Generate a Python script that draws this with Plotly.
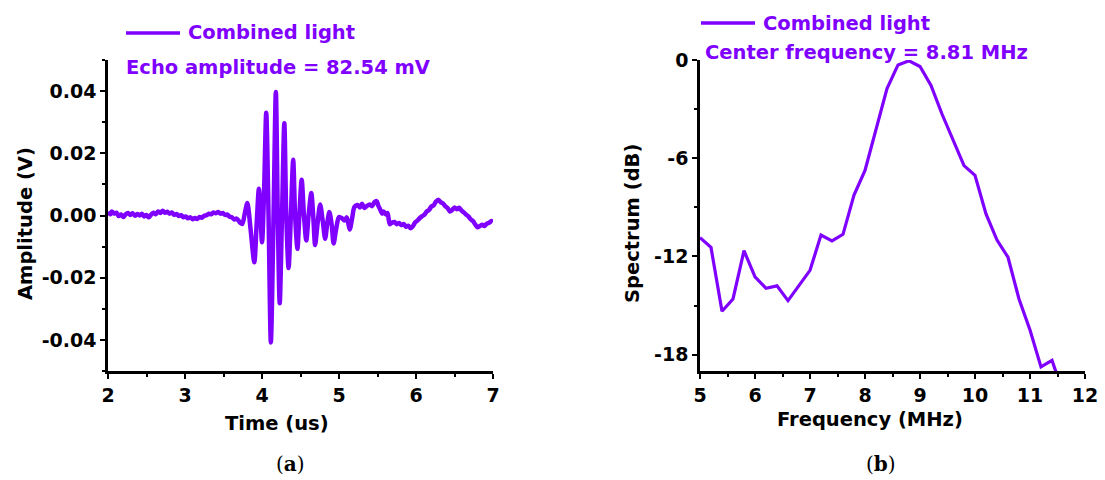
import numpy as np
import plotly.graph_objects as go

# ---------------- data ----------------
# (a) echo waveform: time (us) and amplitude (mV)
time_us = [
    2.00, 2.03, 2.05, 2.08, 2.11, 2.14, 2.17, 2.20, 2.23, 2.26, 2.29, 2.32, 2.35, 2.38, 2.41, 2.44,
    2.47, 2.50, 2.53, 2.56, 2.59, 2.62, 2.65, 2.68, 2.71, 2.74, 2.77, 2.80, 2.83, 2.86, 2.89, 2.92,
    2.95, 2.98, 3.01, 3.04, 3.07, 3.10, 3.13, 3.16, 3.19, 3.22, 3.25, 3.28, 3.31, 3.34, 3.37, 3.40,
    3.43, 3.46, 3.49, 3.52, 3.55, 3.58, 3.61, 3.64, 3.67, 3.70, 3.72, 3.745, 3.775, 3.81, 3.85,
    3.90, 3.93, 3.96, 4.00, 4.025, 4.055, 4.085, 4.115, 4.15, 4.18, 4.205, 4.23, 4.26, 4.29,
    4.315, 4.345, 4.375, 4.405, 4.43, 4.46, 4.485, 4.515, 4.545, 4.575, 4.605, 4.64, 4.665,
    4.69, 4.72, 4.755, 4.79, 4.82, 4.85, 4.875, 4.905, 4.93, 4.965, 5.00, 5.04, 5.07, 5.10,
    5.12, 5.14, 5.17, 5.20, 5.24, 5.27, 5.30, 5.33, 5.36, 5.40, 5.43, 5.46, 5.49, 5.51, 5.53,
    5.56, 5.58, 5.61, 5.63, 5.66, 5.69, 5.72, 5.75, 5.78, 5.81, 5.84, 5.87, 5.90, 5.93, 5.96,
    5.99, 6.02, 6.05, 6.08, 6.11, 6.14, 6.17, 6.20, 6.23, 6.26, 6.29, 6.32, 6.35, 6.38, 6.41,
    6.44, 6.47, 6.50, 6.53, 6.56, 6.59, 6.62, 6.65, 6.68, 6.71, 6.74, 6.77, 6.80, 6.83, 6.86,
    6.89, 6.92, 6.95, 6.98, 7.00,
]
amplitude_mv = [
    1.2, 0.4, 1.3, 0.6, 0.9, -0.2, 0.3, -0.5, 0.4, 0.8, 0.2, 0.7, -0.1, 0.5, 0.0, 0.6,
    -0.3, 0.2, -0.6, 0.3, 0.9, 0.4, 1.3, 0.8, 1.5, 0.9, 1.2, 0.6, 1.0, 0.2, 0.5, -0.2,
    0.1, -0.6, -0.3, -0.9, -0.6, -1.2, -0.8, -1.1, -0.5, -0.7, -0.1, 0.1, 0.6, 0.4, 1.0, 0.7,
    1.1, 0.6, 0.8, 0.2, 0.3, -0.4, -0.6, -1.3, -1.0, -1.8, -2.4, -2.7, 0.5, 4.0, -4.0,
    -15.0, -3.0, 8.6, -8.6, 6.0, 33.0, 0.0, -40.8, 0.0, 39.7, 0.0, -28.2, 0.0, 29.7,
    0.0, -16.9, 0.0, 17.9, 0.0, -10.7, 0.0, 11.5, 0.0, -8.0, 0.0, 7.2, 0.0,
    -9.5, -3.0, 3.5, -2.0, -7.5, -2.0, 1.1, -3.0, -9.0, -4.0, -0.5, -0.9, -1.6, -0.6,
    -2.5, -4.5, -1.0, 2.7, 3.4, 2.6, 3.8, 2.4, 3.0, 3.5, 3.0, 4.3, 4.6, 3.2, 2.2,
    0.6, 1.3, 0.3, 0.8, -2.8, -2.3, -2.1, -2.8, -2.4, -3.1, -2.7, -3.6, -3.3, -4.1, -3.4,
    -2.2, -1.6, -0.8, -0.2, 0.3, 1.3, 1.8, 2.9, 3.3, 4.5, 5.1, 4.3, 3.9, 3.0, 2.4,
    1.3, 1.8, 2.6, 2.0, 2.5, 1.6, 1.0, 0.3, -0.3, -1.2, -1.8, -2.9, -3.8, -3.4, -3.0,
    -3.4, -2.6, -2.3, -1.8, -2.0,
]

# (b) spectrum: frequency (MHz) and normalised spectrum (dB)
freq_mhz = [
    5.0, 5.2, 5.4, 5.6, 5.8, 6.0, 6.2, 6.4, 6.6, 6.8, 7.0, 7.2, 7.4, 7.6, 7.8, 8.0, 8.2,
    8.4, 8.6, 8.8, 9.0, 9.2, 9.4, 9.6, 9.8, 10.0, 10.2, 10.4, 10.6, 10.8, 11.0, 11.2,
    11.4, 11.6,
]
spectrum_db = [
    -10.85, -11.45, -15.35, -14.6, -11.65, -13.25, -13.95, -13.8, -14.7, -13.75, -12.85,
    -10.7, -11.05, -10.65, -8.25, -6.75, -4.3, -1.75, -0.3, -0.05, -0.4, -1.55, -3.3,
    -4.9, -6.45, -7.05, -9.4, -11.0, -12.05, -14.6, -16.5, -18.75, -18.35, -20.3,
]

series_name = "Combined light"
echo_text = "Echo amplitude = 82.54 mV"
center_text = "Center frequency = 8.81 MHz"

x1_ticks = [2, 3, 4, 5, 6, 7]
y1_ticks = [-0.04, -0.02, 0.00, 0.02, 0.04]
y1_labels = ["-0.04", "-0.02", "0.00", "0.02", "0.04"]
x2_ticks = [5, 6, 7, 8, 9, 10, 11, 12]
y2_ticks = [-18, -12, -6, 0]
y2_labels = ["-18", "-12", "-6", "0"]

# ---------------- style ----------------
W, H = 1105, 480
PURPLE = "#7F00FF"
FONT = "DejaVu Sans"


def px(x):
    return x / W


def py(y):
    return 1 - y / H


fig = go.Figure()
fig.add_trace(go.Scatter(
    x=time_us, y=np.array(amplitude_mv) / 1000.0, mode="lines",
    line=dict(color=PURPLE, width=4.5, shape="spline", smoothing=0.8),
    xaxis="x", yaxis="y", showlegend=False, name=series_name,
))
fig.add_trace(go.Scatter(
    x=freq_mhz, y=spectrum_db, mode="lines",
    line=dict(color=PURPLE, width=3.2),
    xaxis="x2", yaxis="y2", showlegend=False, name=series_name,
))

tickfont = dict(family=FONT, size=19, color="black", weight="bold")
common = dict(
    showline=True, linecolor="black", linewidth=2.5, mirror=False,
    ticks="outside", ticklen=5, tickwidth=2, tickcolor="black",
    showgrid=False, zeroline=False, tickfont=tickfont, automargin=False,
)
ydom = [py(371), py(60)]

fig.update_layout(
    width=W, height=H, autosize=False,
    margin=dict(l=0, r=0, t=0, b=0, pad=0, autoexpand=False),
    paper_bgcolor="white", plot_bgcolor="white",
    showlegend=False,
    xaxis=dict(domain=[px(108), px(493)], range=[2, 7], anchor="y",
               tickvals=x1_ticks, ticklabelstandoff=0,
               minor=dict(dtick=0.5, tick0=2, ticklen=3, tickwidth=2, ticks="outside", tickcolor="black"),
               **common),
    yaxis=dict(domain=ydom, range=[-0.05, 0.05], anchor="x",
               tickvals=y1_ticks, ticktext=y1_labels, ticklabelstandoff=0,
               minor=dict(dtick=0.01, tick0=0, ticklen=3, tickwidth=2, ticks="outside", tickcolor="black"),
               **common),
    xaxis2=dict(domain=[px(700), px(1085)], range=[5, 12], anchor="y2",
                tickvals=x2_ticks, ticklabelstandoff=0,
                minor=dict(dtick=0.5, tick0=5, ticklen=3, tickwidth=2, ticks="outside", tickcolor="black"),
                **common),
    yaxis2=dict(domain=ydom, range=[-19, 0], anchor="x2",
                tickvals=y2_ticks, ticktext=y2_labels, ticklabelstandoff=0,
                minor=dict(dtick=3, tick0=0, ticklen=3, tickwidth=2, ticks="outside", tickcolor="black"),
                **common),
)

# legend samples
fig.add_shape(type="line", xref="paper", yref="paper",
              x0=px(126), x1=px(180), y0=py(33), y1=py(33),
              line=dict(color=PURPLE, width=3.5))
fig.add_shape(type="line", xref="paper", yref="paper",
              x0=px(701), x1=px(755), y0=py(23), y1=py(23),
              line=dict(color=PURPLE, width=3.5))

lab = dict(family=FONT, size=19.5, color=PURPLE, weight="bold")
ttl = dict(family=FONT, size=19.5, color="black", weight="bold")
annots = [
    dict(text=series_name, x=px(186), y=py(33), xanchor="left", yanchor="middle", font=lab),
    dict(text=echo_text, x=px(124), y=py(68), xanchor="left", yanchor="middle", font=lab),
    dict(text=series_name, x=px(761), y=py(23), xanchor="left", yanchor="middle", font=lab),
    dict(text=center_text, x=px(703), y=py(52), xanchor="left", yanchor="middle", font=lab),
    dict(text="Amplitude (V)", x=px(25), y=py(224), xanchor="center", yanchor="middle", textangle=-90, font=ttl),
    dict(text="Time (us)", x=px(277), y=py(423), xanchor="center", yanchor="middle", font=ttl),
    dict(text="Spectrum (dB)", x=px(632), y=py(224), xanchor="center", yanchor="middle", textangle=-90, font=ttl),
    dict(text="Frequency (MHz)", x=px(870), y=py(419), xanchor="center", yanchor="middle", font=ttl),
    dict(text="(<b>a</b>)", x=px(290), y=py(464), xanchor="center", yanchor="middle",
         font=dict(family="DejaVu Serif", size=20, color="black")),
    dict(text="(<b>b</b>)", x=px(881), y=py(464), xanchor="center", yanchor="middle",
         font=dict(family="DejaVu Serif", size=20, color="black")),
]
for a in annots:
    fig.add_annotation(xref="paper", yref="paper", showarrow=False, **a)

fig.write_html(
    "out.html",
    post_script="document.body.style.margin='0';document.body.style.overflow='hidden';",
)
